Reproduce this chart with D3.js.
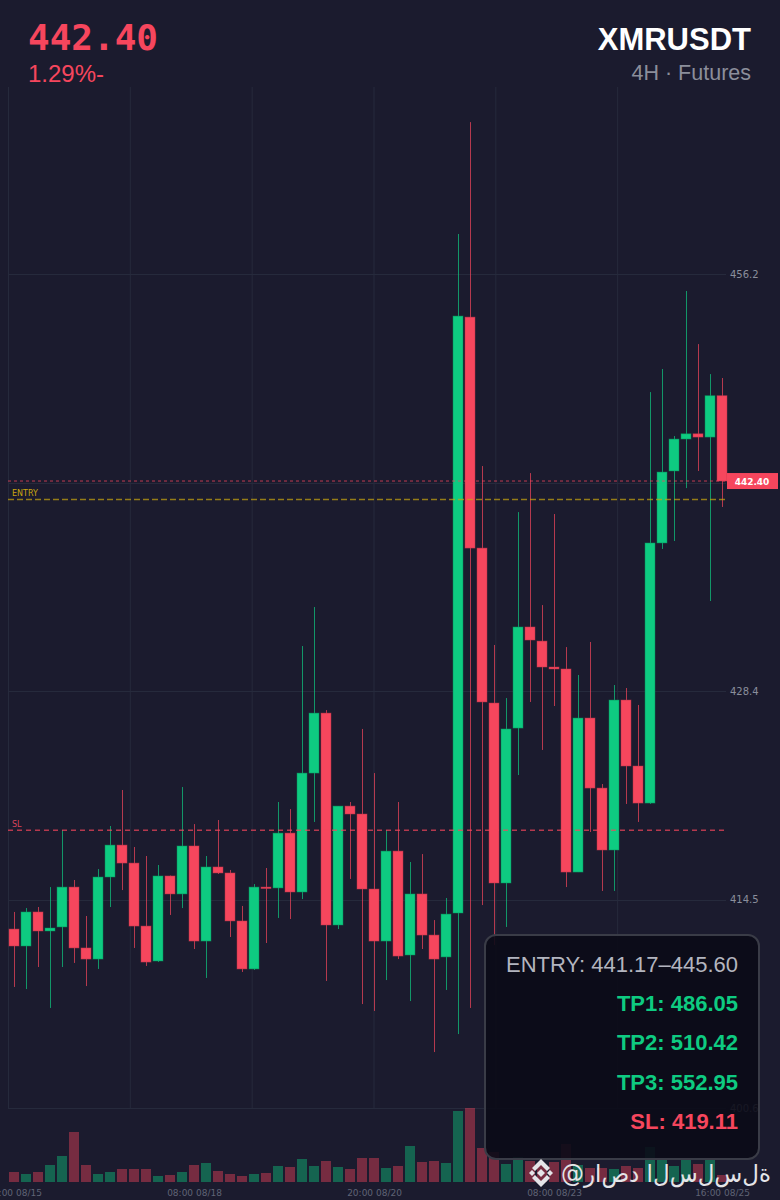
<!DOCTYPE html>
<html>
<head>
<meta charset="utf-8">
<script src="https://cdn.jsdelivr.net/npm/d3@7"></script>
<style>
  html, body { margin: 0; padding: 0; background: #1b1b2e; }
  svg { display: block; }
</style>
</head>
<body>
<div id="chart"></div>
<script>
// XMRUSDT 4H candles, 08/15 20:00 -> 08/25 16:00
const opens = [412.53, 411.40, 413.67, 412.40, 412.67, 415.33, 411.27, 410.53, 416.00, 418.13,
               416.93, 412.73, 410.40, 416.07, 414.87, 418.07, 411.73, 416.67, 416.27, 413.07,
               409.87, 415.33, 415.27, 418.93, 415.00, 422.93, 426.93, 412.80, 420.73, 420.20,
               415.20, 411.73, 417.73, 410.80, 414.87, 412.13, 410.67, 413.60, 453.33, 437.93,
               427.60, 415.60, 425.93, 432.67, 431.73, 430.00, 429.87, 416.33, 426.60, 421.93,
               417.80, 427.80, 423.40, 420.93, 438.27, 443.07, 445.20, 445.55, 445.33, 448.09];
const highs = [413.67, 413.93, 414.00, 415.33, 419.13, 415.80, 413.40, 416.53, 419.40, 421.80,
               418.00, 417.40, 416.80, 416.10, 422.00, 419.53, 417.40, 419.80, 416.47, 414.07,
               415.53, 416.60, 421.00, 420.53, 431.40, 434.00, 427.13, 420.73, 421.00, 425.87,
               422.93, 419.13, 421.00, 417.00, 417.53, 413.13, 414.60, 458.87, 466.33, 443.40,
               431.47, 427.93, 440.33, 442.93, 434.13, 440.20, 431.33, 429.47, 431.67, 422.20,
               428.80, 428.60, 427.47, 448.33, 449.87, 445.40, 455.07, 451.53, 449.53, 449.27];
const lows = [408.67, 408.53, 410.00, 407.27, 410.00, 410.27, 408.73, 409.87, 414.00, 415.13,
              411.27, 410.07, 410.33, 413.47, 413.93, 411.20, 409.27, 416.20, 412.00, 409.67,
              409.80, 411.60, 413.27, 413.20, 414.53, 419.67, 409.07, 412.53, 415.87, 407.53,
              407.07, 409.13, 410.53, 407.73, 411.20, 404.33, 408.47, 405.53, 407.27, 414.13,
              411.47, 412.67, 422.80, 427.67, 424.47, 427.40, 415.33, 416.33, 419.00, 415.07,
              415.07, 420.87, 419.67, 420.87, 437.87, 438.40, 441.93, 443.07, 434.40, 440.67];
const closes = [411.40, 413.67, 412.40, 412.60, 415.33, 411.27, 410.53, 416.00, 418.13, 416.93,
                412.73, 410.33, 416.07, 414.87, 418.07, 411.73, 416.67, 416.27, 413.07, 409.87,
                415.33, 415.27, 418.93, 415.00, 422.93, 426.93, 412.80, 420.73, 420.20, 415.20,
                411.73, 417.73, 410.73, 414.87, 412.13, 410.53, 413.53, 453.40, 437.93, 427.67,
                415.60, 425.87, 432.67, 431.80, 430.00, 429.87, 416.33, 426.60, 421.93, 417.80,
                427.80, 423.40, 420.93, 438.27, 443.00, 445.20, 445.55, 445.33, 448.09, 442.40];
// volume in K
const volumes = [10, 8, 10, 17, 26, 50, 17, 8, 10, 13,
                 13, 13, 6, 7, 10, 17, 19, 11, 8, 6,
                 8, 9, 16, 15, 23, 16, 21, 15, 13, 24,
                 24, 14, 16, 36, 20, 21, 19, 71, 74, 34,
                 30, 18, 25, 21, 17, 20, 38, 17, 14, 14,
                 13, 16, 14, 35, 22, 16, 22, 18, 22, 7];

const priceTicks = [456.2, 442.3, 428.4, 414.5, 400.6];
const timeTickIdx = [0, 15, 30, 45, 59];
const timeTickLabels = ["20:00 08/15", "08:00 08/18", "20:00 08/20", "08:00 08/23", "16:00 08/25"];

const lastPrice = 442.40;
const entryPrice = 441.17;
const slPrice = 419.11;
const changeText = "1.29%-";
const symbol = "XMRUSDT";
const subtitle = "4H · Futures";
const signalLines = [
  { text: "ENTRY: 441.17–445.60", kind: "entry" },
  { text: "TP1: 486.05", kind: "tp" },
  { text: "TP2: 510.42", kind: "tp" },
  { text: "TP3: 552.95", kind: "tp" },
  { text: "SL: 419.11", kind: "sl" }
];
const watermark = "@راصد السلسلة";

const W = 780, H = 1200;
const UP = "#0ecb81", DOWN = "#f6465d", BG = "#1b1b2e";
const plot = { left: 8, right: 726, top: 87, bottom: 1108 };

const svg = d3.select("#chart").append("svg")
  .attr("width", W).attr("height", H);
svg.append("rect").attr("width", W).attr("height", H).attr("fill", BG);

// SCALES
const x = d3.scaleLinear().domain([0, opens.length - 1]).range([14, 722]);
const y = d3.scaleLinear().domain([400.6, 468.67]).range([plot.bottom, plot.top]);
const vy = d3.scaleLinear().domain([0, d3.max(volumes)]).range([1182, 1108]);
const gridX = d3.scaleLinear().domain([0, 6]).range([plot.left, 739]);

// GRID
const grid = svg.append("g").attr("stroke", "#262a3c").attr("stroke-width", 1);
grid.selectAll(".vg").data(d3.range(6)).enter().append("line")
  .attr("x1", d => gridX(d) + 0.5).attr("x2", d => gridX(d) + 0.5)
  .attr("y1", plot.top).attr("y2", plot.bottom);
grid.selectAll(".hg").data(priceTicks).enter().append("line")
  .attr("x1", plot.left).attr("x2", plot.right)
  .attr("y1", d => Math.round(y(d)) + 0.5).attr("y2", d => Math.round(y(d)) + 0.5);

// VOLUME
svg.append("g").selectAll("rect").data(volumes).enter().append("rect")
  .attr("x", (d, i) => x(i) - 5)
  .attr("width", 10)
  .attr("y", d => vy(d))
  .attr("height", d => vy(0) - vy(d))
  .attr("fill", (d, i) => closes[i] >= opens[i] ? UP : DOWN)
  .attr("fill-opacity", 0.42);

// CANDLES
const idx = d3.range(opens.length);
const candles = svg.append("g");
candles.selectAll(".wick").data(idx).enter().append("line")
  .attr("x1", i => x(i) + 0.5).attr("x2", i => x(i) + 0.5)
  .attr("y1", i => y(highs[i])).attr("y2", i => y(lows[i]))
  .attr("stroke", i => closes[i] >= opens[i] ? UP : DOWN)
  .attr("stroke-opacity", 0.7)
  .attr("stroke-width", 1);
candles.selectAll(".body").data(idx).enter().append("rect")
  .attr("x", i => x(i) - 5)
  .attr("width", 10)
  .attr("y", i => y(Math.max(opens[i], closes[i])))
  .attr("height", i => Math.max(1.5, Math.abs(y(opens[i]) - y(closes[i]))))
  .attr("fill", i => closes[i] >= opens[i] ? UP : DOWN)
  .attr("stroke", i => closes[i] >= opens[i] ? "#0a8a5a" : "#b8364a")
  .attr("stroke-opacity", 0.6)
  .attr("stroke-width", 0.8);

// LEVEL LINES
svg.append("line")
  .attr("x1", plot.left).attr("x2", plot.right)
  .attr("y1", y(lastPrice)).attr("y2", y(lastPrice))
  .attr("stroke", DOWN).attr("stroke-opacity", 0.75)
  .attr("stroke-width", 1).attr("stroke-dasharray", "3,3");
svg.append("line")
  .attr("x1", plot.left).attr("x2", plot.right)
  .attr("y1", y(entryPrice)).attr("y2", y(entryPrice))
  .attr("stroke", "#c9a50f").attr("stroke-opacity", 0.7)
  .attr("stroke-width", 1.5).attr("stroke-dasharray", "6,3");
svg.append("line")
  .attr("x1", plot.left).attr("x2", plot.right)
  .attr("y1", y(slPrice)).attr("y2", y(slPrice))
  .attr("stroke", DOWN).attr("stroke-opacity", 0.7)
  .attr("stroke-width", 1.5).attr("stroke-dasharray", "5,4");

svg.append("text").text("ENTRY")
  .attr("x", 12).attr("y", y(entryPrice) - 3)
  .attr("font-family", "DejaVu Sans").attr("font-size", 8)
  .attr("fill", "#c9a50f");
svg.append("text").text("SL")
  .attr("x", 12).attr("y", y(slPrice) - 3)
  .attr("font-family", "DejaVu Sans").attr("font-size", 8)
  .attr("fill", "#d9435a");

// AXES
const yAxis = svg.append("g")
  .attr("transform", "translate(" + (plot.right + 1) + ",0)")
  .call(d3.axisRight(y).tickValues(priceTicks).tickSize(0).tickPadding(3)
    .tickFormat(d3.format(".1f")));
yAxis.select(".domain").remove();
yAxis.selectAll("text")
  .attr("fill", "#8a8e9c").attr("font-size", 10).attr("font-family", "DejaVu Sans");

const xAxis = svg.append("g")
  .attr("transform", "translate(0,1184)")
  .call(d3.axisBottom(x).tickValues(timeTickIdx).tickSize(0).tickPadding(6)
    .tickFormat((d, i) => timeTickLabels[i]));
xAxis.select(".domain").remove();
xAxis.selectAll("text")
  .attr("fill", "#5f6375").attr("font-size", 9).attr("font-family", "DejaVu Sans");

// last price badge
svg.append("rect")
  .attr("x", 727).attr("y", y(lastPrice) - 8)
  .attr("width", 51).attr("height", 16)
  .attr("fill", DOWN);
svg.append("text").text(lastPrice.toFixed(2))
  .attr("x", 752).attr("y", y(lastPrice) + 3.5)
  .attr("text-anchor", "middle")
  .attr("font-family", "DejaVu Sans").attr("font-weight", "bold")
  .attr("font-size", 9).attr("fill", "#ffffff");

// HEADER
svg.append("text").text(lastPrice.toFixed(2))
  .attr("x", 28).attr("y", 50)
  .attr("font-family", "DejaVu Sans Mono").attr("font-weight", "bold")
  .attr("font-size", 36).attr("fill", DOWN);
svg.append("text").text(changeText)
  .attr("x", 28).attr("y", 82)
  .attr("font-family", "Liberation Sans").attr("font-size", 24)
  .attr("fill", DOWN);
svg.append("text").text(symbol)
  .attr("x", 751).attr("y", 50).attr("text-anchor", "end")
  .attr("font-family", "Liberation Sans").attr("font-weight", "bold")
  .attr("font-size", 31).attr("fill", "#ffffff");
svg.append("text").text(subtitle)
  .attr("x", 751).attr("y", 80).attr("text-anchor", "end")
  .attr("font-family", "Liberation Sans").attr("font-size", 21.5)
  .attr("fill", "#8b8e9b");

// SIGNAL BOX
svg.append("rect")
  .attr("x", 485).attr("y", 935).attr("width", 274).attr("height", 224)
  .attr("rx", 11)
  .attr("fill", "#0b0b17").attr("fill-opacity", 0.9)
  .attr("stroke", "#3a3c47").attr("stroke-width", 2);
const lineColor = { entry: "#b3b5bf", tp: UP, sl: DOWN };
svg.append("g").selectAll("text").data(signalLines).enter().append("text")
  .text(d => d.text)
  .attr("x", 738)
  .attr("y", (d, i) => 972 + i * 39.2)
  .attr("text-anchor", "end")
  .attr("font-family", "Liberation Sans")
  .attr("font-weight", d => d.kind === "entry" ? "normal" : "bold")
  .attr("font-size", 22)
  .attr("fill", d => lineColor[d.kind]);

// WATERMARK
const logo = svg.append("g")
  .attr("transform", "translate(541,1173)")
  .attr("fill", "#e4e4e8");
logo.append("path").attr("d", "M0,-4 L4,0 L0,4 L-4,0 Z");
logo.append("path").attr("d", "M-9,-3 L-6,0 L-9,3 L-12,0 Z");
logo.append("path").attr("d", "M9,-3 L12,0 L9,3 L6,0 Z");
logo.append("path").attr("d", "M0,-14 L9,-5 L6,-2 L0,-8 L-6,-2 L-9,-5 Z");
logo.append("path").attr("d", "M0,14 L9,5 L6,2 L0,8 L-6,2 L-9,5 Z");

svg.append("text")
  .text(Array.from(watermark).join("\u200C"))
  .attr("x", 561).attr("y", 1182)
  .attr("direction", "ltr")
  .attr("unicode-bidi", "bidi-override")
  .attr("textLength", 210)
  .attr("lengthAdjust", "spacingAndGlyphs")
  .attr("font-family", "DejaVu Sans").attr("font-size", 24)
  .attr("fill", "#e4e4e8");
</script>
</body>
</html>
